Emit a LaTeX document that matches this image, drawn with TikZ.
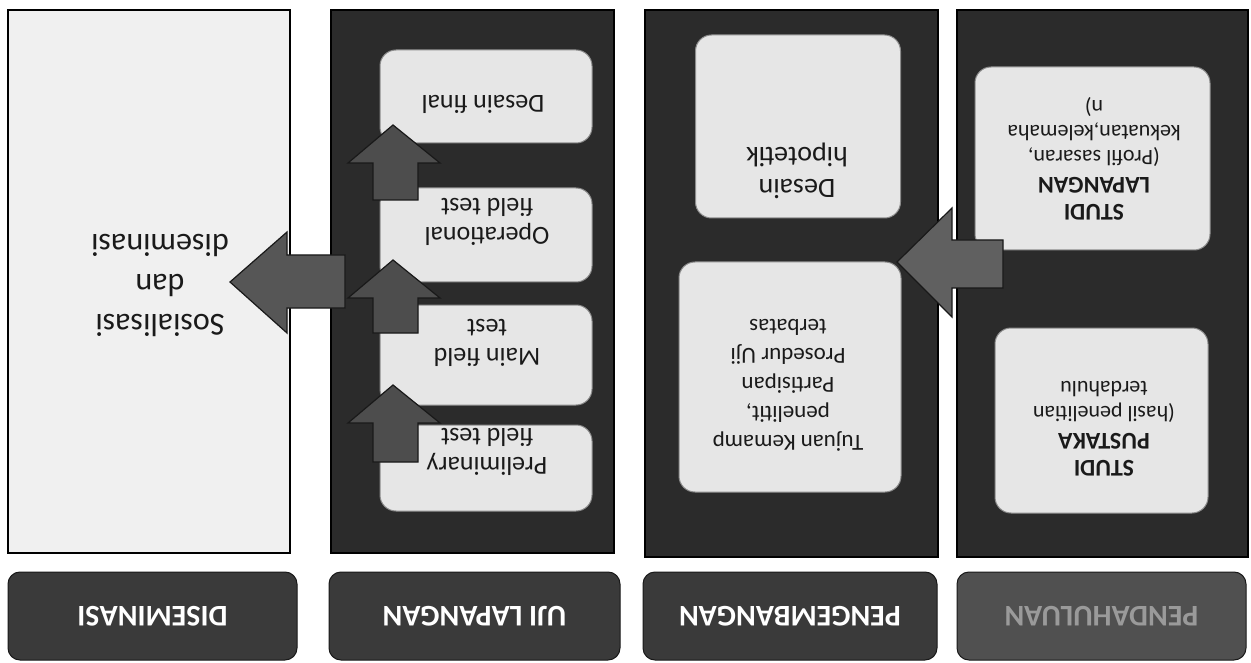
\documentclass[tikz,border=0pt]{standalone}
\usepackage{fontspec}
\setmainfont{Carlito}
\definecolor{panelc}{HTML}{2B2B2B}
\definecolor{hdrc}{HTML}{3A3A3A}
\definecolor{hdrlight}{HTML}{505050}
\definecolor{hdrlighttxt}{HTML}{9A9A9A}
\definecolor{cardc}{HTML}{E6E6E6}
\definecolor{sosc}{HTML}{F0F0F0}
\definecolor{arrc}{HTML}{606060}
\definecolor{txtc}{HTML}{1A1A1A}
\tikzset{
  panel/.style={draw=black, line width=2pt, fill=panelc, rotate=180, inner sep=0pt},
  hdr/.style={draw=black!90, line width=1pt, fill=hdrc, rounded corners=12pt, rotate=180,
    text=white, font=\fontsize{30}{32}\selectfont\bfseries, inner sep=0pt, minimum height=88pt},
  card/.style={draw=black!45, line width=1pt, fill=cardc, rounded corners=16pt, rotate=180, inner sep=0pt},
  txt/.style={rotate=180, align=center, text=txtc, inner sep=0pt},
  blockarrow/.style={fill=arrc, draw=black!90, line width=1.2pt, line join=miter},
}
\begin{document}
\begin{tikzpicture}[x=1pt,y=-1pt]
\useasboundingbox (0,0) rectangle (1251,663);
\fill[white] (0,0) rectangle (1251,663);

% ---- panels
\node[panel, fill=sosc, minimum width=282pt, minimum height=543pt] (pdis) at (149,281.5) {};
\node[panel, minimum width=283pt, minimum height=543pt] (puji) at (472.5,281.5) {};
\node[panel, minimum width=293pt, minimum height=547pt] (ppeng) at (791.5,283.5) {};
\node[panel, minimum width=291pt, minimum height=547pt] (ppend) at (1102.5,283.5) {};

% ---- headers
\node[hdr, minimum width=289pt] (hdis) at (152.5,616) {DISEMINASI};
\node[hdr, minimum width=291pt] (huji) at (474.5,616) {UJI LAPANGAN};
\node[hdr, minimum width=294pt] (hpeng) at (790,616) {PENGEMBANGAN};
\node[hdr, fill=hdrlight, text=hdrlighttxt, minimum width=289pt] (hpend) at (1101.5,616) {PENDAHULUAN};

% ---- disseminasi text
\node[txt, font=\fontsize{32}{40}\selectfont] (sos) at (160,285) {Sosialisasi\\dan\\diseminasi};

% ---- uji lapangan cards
\node[card, minimum width=212pt, minimum height=93pt] (final) at (486,96.5) {};
\node[card, minimum width=212pt, minimum height=94pt] (oper) at (486,235) {};
\node[card, minimum width=212pt, minimum height=100pt] (mainf) at (486,355) {};
\node[card, minimum width=212pt, minimum height=86pt] (prelim) at (486,468) {};
\node[txt, font=\fontsize{26}{29}\selectfont] at (483,104) {Desain final};
\node[txt, font=\fontsize{26}{29}\selectfont] at (487,222) {Operational\\field test};
\node[txt, font=\fontsize{26}{29}\selectfont] at (487,343) {Main field\\test};
\node[txt, font=\fontsize{26}{29}\selectfont] at (487,452) {Preliminary\\field test};

% ---- pengembangan cards
\node[card, minimum width=205pt, minimum height=183pt] (hipo) at (798,126.5) {};
\node[card, minimum width=222pt, minimum height=230pt] (tujuan) at (790,377) {};
\node[txt, font=\fontsize{28}{32}\selectfont] at (797,171) {Desain\\hipotetik};
\node[txt, font=\fontsize{23}{29}\selectfont] at (788,385) {Tujuan Kemamp\\penelitit,\\Partisipan\\Prosedur Uji\\terbatas};

% ---- pendahuluan cards
\node[card, minimum width=235pt, minimum height=183pt] (lap) at (1092.5,158.5) {};
\node[card, minimum width=213pt, minimum height=185pt] (pus) at (1101.5,420.5) {};
\node[txt, font=\fontsize{22}{25}\selectfont] at (1094,159) {\fontsize{24}{30}\selectfont\bfseries STUDI\\[2pt]\fontsize{24}{30}\selectfont\bfseries LAPANGAN\\[2pt](Profil sasaran,\\kekuatan,kelemaha\\n)};
\node[txt, font=\fontsize{22}{25}\selectfont] at (1104,429) {\fontsize{24}{30}\selectfont\bfseries STUDI\\[2pt]\fontsize{24}{30}\selectfont\bfseries PUSTAKA\\[2pt](hasil penelitian\\terdahulu};

% ---- block arrows
% pendahuluan -> pengembangan
\draw[blockarrow] (897,262) -- (952,208) -- (952,240) -- (1003,240) -- (1003,288) -- (952,288) -- (952,317) -- cycle;
% uji lapangan -> diseminasi
\draw[blockarrow, fill=arrc!90!black] (230,282) -- (287,232) -- (287,255) -- (345,255) -- (345,308) -- (287,308) -- (287,333) -- cycle;
% uji lapangan internal arrows
\foreach \t/\b in {125/200, 260/333, 385/462}{
  \draw[blockarrow, fill=arrc!80!black] (393,\t) -- (440,\t+38) -- (418,\t+38) -- (418,\b) -- (373,\b) -- (373,\t+38) -- (348,\t+38) -- cycle;
}
\end{tikzpicture}
\end{document}
